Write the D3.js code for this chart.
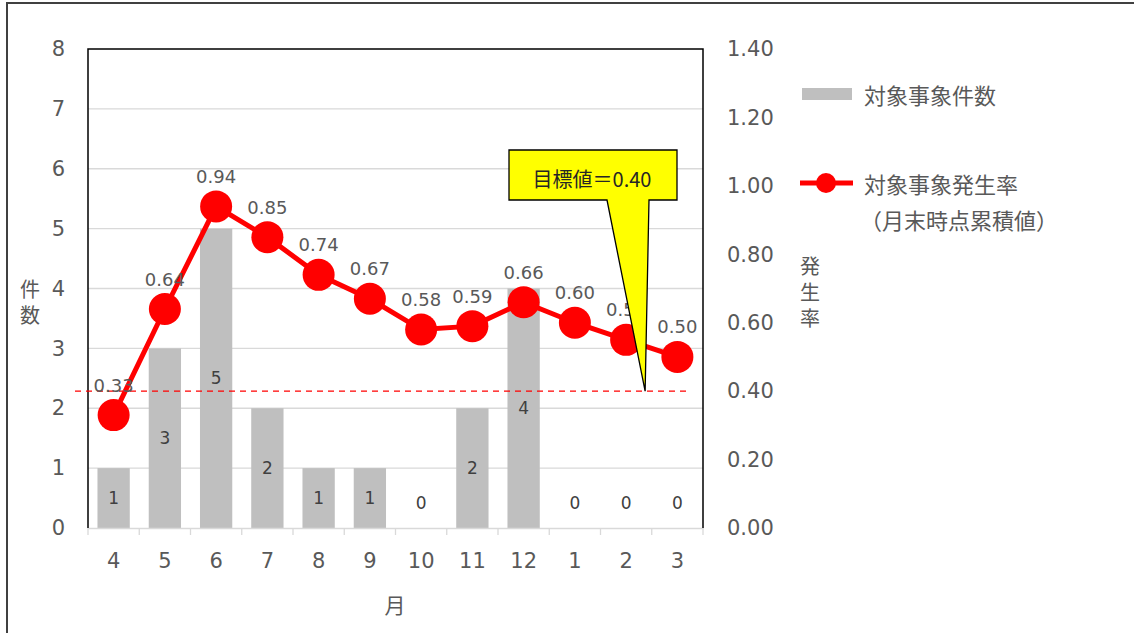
<!DOCTYPE html>
<html>
<head>
<meta charset="utf-8">
<script src="https://cdn.jsdelivr.net/npm/d3@7"></script>
<style>
  body { margin: 0; background: #fff; }
  text { font-family: "Noto Sans CJK JP", "Noto Sans", sans-serif; fill: #595959; }
  .num { font-family: "DejaVu Sans", sans-serif; }
</style>
</head>
<body>
<div id="svg-chart"></div>
<script>
// chart data
var months = ["4", "5", "6", "7", "8", "9", "10", "11", "12", "1", "2", "3"];
var counts = [1, 3, 5, 2, 1, 1, 0, 2, 4, 0, 0, 0];
var rates = [0.33, 0.64, 0.94, 0.85, 0.74, 0.67, 0.58, 0.59, 0.66, 0.60, 0.55, 0.50];
var countTicks = [0, 1, 2, 3, 4, 5, 6, 7, 8];
var rateTicks = [0, 0.2, 0.4, 0.6, 0.8, 1.0, 1.2, 1.4];
var target = 0.40;
var targetLabel = "目標値＝0.40";

var svgWidth = 1134, svgHeight = 633;
var chartMargin = { top: 49, left: 88, right: 431, bottom: 105 };
var chartWidth = svgWidth - chartMargin.left - chartMargin.right;
var chartHeight = svgHeight - chartMargin.top - chartMargin.bottom;

var svg = d3.select("#svg-chart")
    .append("svg")
    .attr("width", svgWidth)
    .attr("height", svgHeight);

// outer frame
svg.append("rect")
    .attr("x", 7).attr("y", 3)
    .attr("width", 1200).attr("height", 700)
    .attr("fill", "none")
    .attr("stroke", "#404040")
    .attr("stroke-width", 2);

var chartGroup = svg.append("g").attr("transform", `translate(${chartMargin.left}, ${chartMargin.top})`);

var xScale = d3.scaleBand()
    .domain(months)
    .range([0, chartWidth])
    .paddingInner(0.37)
    .paddingOuter(0.185);

var xBand = d3.scaleBand().domain(months).range([0, chartWidth]);

var yScale = d3.scaleLinear().domain([0, 8]).range([chartHeight, 0]);
var y2Scale = d3.scaleLinear().domain([0, 1.4]).range([chartHeight, 0]);

// gridlines
chartGroup.append("g")
    .selectAll("line")
    .data(countTicks.slice(1, -1))
    .enter()
    .append("line")
    .attr("x1", 0).attr("x2", chartWidth)
    .attr("y1", d => yScale(d)).attr("y2", d => yScale(d))
    .attr("stroke", "#d9d9d9")
    .attr("stroke-width", 1.3);

// bars
chartGroup.selectAll(".bar")
    .data(counts)
    .enter()
    .append("rect")
    .attr("class", "bar")
    .attr("x", (d, i) => xScale(months[i]))
    .attr("width", xScale.bandwidth())
    .attr("y", d => yScale(d))
    .attr("height", d => chartHeight - yScale(d))
    .attr("fill", "#bfbfbf");

// bar labels
chartGroup.selectAll(".barlabel")
    .data(counts)
    .enter()
    .append("text")
    .attr("class", "barlabel num")
    .attr("x", (d, i) => xScale(months[i]) + xScale.bandwidth() / 2)
    .attr("y", d => Math.min((yScale(d) + chartHeight) / 2, chartHeight - 25))
    .attr("text-anchor", "middle")
    .attr("dominant-baseline", "central")
    .style("font-size", "17px")
    .style("fill", "#404040")
    .text(d => d);

// x axis
var xAxis = d3.axisBottom(xBand).tickSize(0).tickPadding(25);
var xg = chartGroup.append("g")
    .attr("transform", `translate(0, ${chartHeight})`)
    .call(xAxis);
xg.select(".domain").attr("stroke", "#d9d9d9").attr("stroke-width", 1.5);
xg.selectAll("text").attr("class", "num").style("font-size", "21px").style("fill", "#595959");
// category boundary ticks
xg.selectAll(".bnd")
    .data(d3.range(months.length + 1))
    .enter()
    .append("line")
    .attr("x1", i => i * xBand.step()).attr("x2", i => i * xBand.step())
    .attr("y1", 0).attr("y2", 7)
    .attr("stroke", "#d9d9d9")
    .attr("stroke-width", 1.3);

// left axis
var yAxis = d3.axisLeft(yScale).tickValues(countTicks).tickSize(0).tickPadding(23);
var yg = chartGroup.append("g").call(yAxis);
yg.select(".domain").remove();
yg.selectAll("text").attr("class", "num").style("font-size", "21px").style("fill", "#595959");

// right axis
var y2Axis = d3.axisRight(y2Scale).tickValues(rateTicks).tickSize(0).tickPadding(24)
    .tickFormat(d3.format(".2f"));
var y2g = chartGroup.append("g")
    .attr("transform", `translate(${chartWidth}, 0)`)
    .call(y2Axis);
y2g.select(".domain").remove();
y2g.selectAll("text").attr("class", "num").style("font-size", "21px").style("fill", "#595959");

// plot frame (left, top, right)
chartGroup.append("path")
    .attr("d", `M0,${chartHeight}V0H${chartWidth}V${chartHeight}`)
    .attr("fill", "none")
    .attr("stroke", "#000")
    .attr("stroke-width", 1.5);

// target dashed line
chartGroup.append("line")
    .attr("x1", -13).attr("x2", chartWidth - 13)
    .attr("y1", y2Scale(target)).attr("y2", y2Scale(target))
    .attr("stroke", "#ff0000")
    .attr("stroke-width", 1.3)
    .attr("stroke-dasharray", "6,5");

// rate line
var cx = (d, i) => xBand(months[i]) + xBand.bandwidth() / 2;
var line = d3.line()
    .x((d, i) => cx(d, i))
    .y(d => y2Scale(d));

chartGroup.append("path")
    .datum(rates)
    .attr("d", line)
    .attr("fill", "none")
    .attr("stroke", "#ff0000")
    .attr("stroke-width", 5);

chartGroup.selectAll(".points")
    .data(rates)
    .enter()
    .append("circle")
    .attr("class", "points")
    .attr("cx", cx)
    .attr("cy", d => y2Scale(d))
    .attr("r", 16)
    .attr("fill", "#ff0000");

chartGroup.selectAll(".ratelabel")
    .data(rates)
    .enter()
    .append("text")
    .attr("class", "ratelabel num")
    .attr("x", cx)
    .attr("y", d => y2Scale(d) - 30)
    .attr("text-anchor", "middle")
    .attr("dominant-baseline", "central")
    .style("font-size", "18px")
    .text(d => d3.format(".2f")(d));

// target callout
var tipX = cx(0, 10) + 19, tipY = y2Scale(target);
var box = { x: 421, y: 101, w: 168, h: 50 };
var callout = chartGroup.append("g");
callout.append("path")
    .attr("d", `M${box.x},${box.y}H${box.x + box.w}V${box.y + box.h}H${box.x + 140}L${tipX},${tipY}L${box.x + 98},${box.y + box.h}H${box.x}Z`)
    .attr("fill", "#ffff00")
    .attr("stroke", "#000")
    .attr("stroke-width", 1.3);
callout.append("text")
    .attr("x", box.x + 83)
    .attr("y", box.y + 28)
    .attr("text-anchor", "middle")
    .attr("dominant-baseline", "central")
    .style("font-size", "20px")
    .style("fill", "#262626")
    .text(targetLabel);

// axis titles (vertical)
svg.append("text")
    .attr("x", 30).attr("y", 279)
    .style("writing-mode", "vertical-rl")
    .style("font-size", "20px")
    .style("letter-spacing", "6px")
    .text("件数");

svg.append("text")
    .attr("x", 810).attr("y", 256)
    .style("writing-mode", "vertical-rl")
    .style("font-size", "20px")
    .style("letter-spacing", "6px")
    .text("発生率");

svg.append("text")
    .attr("x", 395).attr("y", 604)
    .attr("text-anchor", "middle").attr("dominant-baseline", "central")
    .style("font-size", "21px")
    .text("月");

// legend
var legend = svg.append("g");
legend.append("rect")
    .attr("x", 802).attr("y", 88)
    .attr("width", 50).attr("height", 12)
    .attr("fill", "#bfbfbf");
legend.append("text")
    .attr("x", 864).attr("y", 94)
    .attr("dominant-baseline", "central")
    .style("font-size", "22px")
    .text("対象事象件数");
legend.append("line")
    .attr("x1", 800).attr("x2", 853)
    .attr("y1", 183).attr("y2", 183)
    .attr("stroke", "#ff0000").attr("stroke-width", 5);
legend.append("circle")
    .attr("cx", 826).attr("cy", 183).attr("r", 10)
    .attr("fill", "#ff0000");
legend.append("text")
    .attr("x", 864).attr("y", 183)
    .attr("dominant-baseline", "central")
    .style("font-size", "22px")
    .text("対象事象発生率");
legend.append("text")
    .attr("x", 860).attr("y", 219)
    .attr("dominant-baseline", "central")
    .style("font-size", "22px")
    .text("（月末時点累積値）");
</script>
</body>
</html>
